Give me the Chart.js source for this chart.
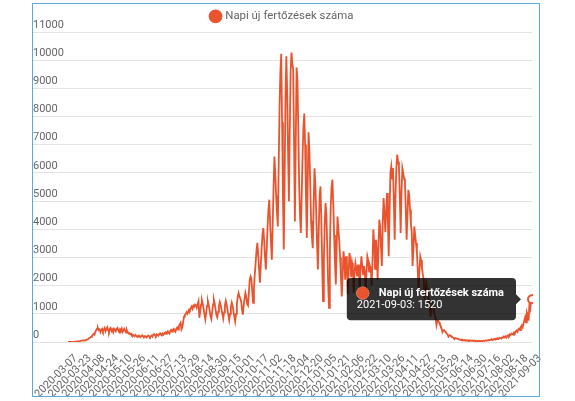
<!DOCTYPE html>
<html>
<head>
<meta charset="utf-8">
<script src="https://cdn.jsdelivr.net/npm/chart.js@4.4.1/dist/chart.umd.min.js"></script>
<style>
  html, body { margin: 0; padding: 0; background: #ffffff; }
  #wrap { position: absolute; left: 0; top: 0; width: 575px; height: 401px; }
  #frame { position: absolute; left: 32px; top: 3px; width: 506px; height: 392px; border: 1px solid #5aa9e0; pointer-events: none; }
</style>
</head>
<body>
<div id="wrap"><canvas id="chart"></canvas></div>
<div id="frame"></div>
<script>
// ---- data ----
const seriesLabel = 'Napi új fertőzések száma';
const firstDate = '2020-03-07';
const lastDate = '2021-09-03';
const missingDates = ['2021-07-25'];
const labelEvery = 16;
const yMin = 0;
const yMax = 11000;
const yStep = 1000;

// daily new cases, 2020-03-07 .. 2020-12-31
const cases2020 = [
  0, 1, 2, 2, 4, 5, 7,
  9, 10, 13, 16, 19, 25, 30,
  32, 39, 45, 50, 55, 48, 60,
  73, 85, 92, 110, 140, 160, 185,
  210, 250, 290, 260, 350, 420, 470,
  500, 420, 450, 350, 420, 470, 380,
  440, 500, 380, 460, 520, 420, 360,
  470, 500, 390, 440, 350, 470, 430,
  380, 460, 500, 400, 350, 450, 410,
  480, 360, 420, 470, 390, 330, 420,
  340, 300, 320, 270, 290, 240, 260,
  230, 200, 250, 220, 180, 210, 230,
  190, 170, 220, 240, 200, 180, 210,
  200, 160, 190, 230, 210, 170, 200,
  230, 190, 260, 280, 240, 210, 270,
  250, 220, 290, 310, 270, 240, 300,
  260, 300, 340, 290, 350, 380, 330,
  300, 390, 430, 370, 420, 460, 400,
  360, 470, 510, 440, 560, 620, 680,
  450, 520, 700, 900, 960, 1000, 1060,
  1000, 1080, 1150, 1120, 1200, 1260, 1180,
  1290, 1250, 1330, 1300, 1220, 1350, 1450,
  860, 1080, 1330, 1480, 1360, 1170, 980,
  800, 1030, 1290, 1450, 1320, 1120, 930,
  820, 1060, 1330, 1500, 1360, 1160, 960,
  880, 1070, 1280, 1420, 1310, 1150, 990,
  830, 1050, 1300, 1460, 1330, 1140, 960,
  780, 1000, 1250, 1400, 1280, 1090, 900,
  730, 1000, 1350, 1600, 1740, 1620, 1550,
  1450, 1150, 970, 1300, 1550, 1740, 1600,
  1350, 1300, 1700, 2200, 2330, 2250, 1800,
  1390, 1900, 2400, 2810, 3250, 3520, 3100,
  2600, 2100, 2700, 3300, 3800, 4040, 3600,
  3000, 2570, 3300, 4100, 4700, 5050, 4200,
  3500, 2920, 4200, 5500, 6580, 6000, 5200,
  4600, 4100, 6200, 8300, 9600, 10230, 7800,
  5200, 3280, 5800, 8800, 10140, 8800, 6800,
  4990, 7500, 9600, 10270, 9900, 9670, 7200,
  4280, 7000, 9740, 9300, 7600, 5600, 4500,
  3870, 5200, 6600, 7600, 8110, 7000, 5200,
  3690, 5600, 7440, 6800, 5600, 4300, 3700,
  3330, 4900, 6165, 5600, 4600, 3500, 2570,
  4000, 5200, 5520, 4300, 2800, 1450
];

// daily new cases, 2021-01-01 .. 2021-09-03
const cases2021 = [
  2900, 4200, 4930, 4500, 3300, 2100, 1210,
  3200, 4800, 5500, 5760, 4900, 3800, 2800,
  2040, 3400, 4450, 4000, 3600, 3000, 2300,
  1620, 2400, 3220, 2900, 2210, 3040, 2800,
  1700, 2500, 3160, 2900, 2300, 2800, 2600,
  1750, 2500, 2800, 2600, 2330, 2750, 2500,
  1800, 2600, 3040, 2700, 2400, 2700, 2500,
  1850, 2500, 3040, 2900, 2500, 2700, 2600,
  2000, 2900, 3990, 3500, 2600, 3630, 3300,
  2200, 3400, 4340, 4100, 3300, 2700, 4200,
  5110, 4600, 3900, 4600, 5290, 4400, 3040,
  4600, 6000, 6230, 5800, 6170, 5000, 3630,
  5200, 6200, 6650, 6400, 6230, 5200, 3870,
  5300, 6170, 6000, 5800, 5700, 4700, 3630,
  4500, 5400, 5200, 4700, 4200, 3900, 2700,
  3300, 4100, 3800, 3510, 3200, 2600, 1800,
  2500, 3040, 2900, 2600, 2400, 2210, 1500,
  1900, 2100, 1900, 1700, 1500, 1300, 900,
  1200, 1350, 1200, 1050, 950, 850, 600,
  760, 760, 700, 620, 560, 480, 350,
  410, 420, 380, 340, 300, 270, 190,
  235, 240, 210, 190, 170, 150, 100,
  140, 130, 120, 110, 100, 94, 70,
  80, 60, 75, 55, 70, 50, 65,
  45, 60, 40, 60, 50, 45, 55,
  35, 50, 40, 30, 45, 35, 40,
  30, 35, 25, 40, 35, 45, 30,
  50, 55, 45, 60, 70, 55, 82,
  75, 90, 70, 95, 110, 85, 120,
  105, 130, 115, 150, 140, 125, 170,
  160, 190, 175, 200, 160, 220, 240,
  210, 270, 250, 300, 280, 260, 340,
  320, 380, 410, 360, 450, 480, 420,
  540, 590, 520, 650, 760, 880, 700,
  1060, 980, 760, 1350, 1200, 1500, 1520
];

// ---- build categories (consecutive report dates) ----
function buildDates(from, to, skip) {
  const out = [];
  const d = new Date(from + 'T00:00:00Z');
  const end = new Date(to + 'T00:00:00Z');
  while (d <= end) {
    const s = d.toISOString().slice(0, 10);
    if (!skip.includes(s)) out.push(s);
    d.setUTCDate(d.getUTCDate() + 1);
  }
  return out;
}
const dates = buildDates(firstDate, lastDate, missingDates);
const values = cases2020.concat(cases2021);

const lineColor = '#e9542e';
Chart.defaults.font.family = 'Roboto, "Noto Sans", sans-serif';
Chart.defaults.color = '#666666';

const chart = new Chart(document.getElementById('chart'), {
  type: 'line',
  data: {
    labels: dates,
    datasets: [{
      label: seriesLabel,
      data: values,
      borderColor: lineColor,
      backgroundColor: lineColor,
      borderWidth: 1.8,
      pointRadius: 0,
      pointHitRadius: 4,
      pointHoverRadius: 4,
      pointHoverBorderWidth: 2,
      pointHoverBackgroundColor: '#ffffff',
      pointHoverBorderColor: lineColor,
      pointStyle: 'circle',
      tension: 0,
      fill: false
    }]
  },
  options: {
    responsive: true,
    maintainAspectRatio: false,
    animation: false,
    layout: { padding: { left: 33, right: 43, top: 2, bottom: 4 } },
    plugins: {
      legend: {
        display: true,
        position: 'top',
        labels: {
          usePointStyle: true,
          boxWidth: 8,
          boxHeight: 8.5,
          padding: 4,
          color: '#666666',
          font: { size: 11.4 }
        }
      },
      tooltip: {
        enabled: true,
        backgroundColor: 'rgba(0,0,0,0.8)',
        padding: { left: 10, right: 12, top: 9, bottom: 9 },
        caretPadding: 11,
        caretSize: 5,
        cornerRadius: 4,
        usePointStyle: true,
        boxWidth: 12,
        boxHeight: 12,
        boxPadding: 8,
        bodyFont: { size: 11, weight: 'bold', lineHeight: 1.1 },
        footerFont: { size: 11, weight: 'normal', lineHeight: 1.1 },
        footerMarginTop: 0,
        bodyColor: '#ffffff',
        footerColor: '#ffffff',
        callbacks: {
          title: () => '',
          label: (ctx) => ctx.dataset.label,
          labelColor: () => ({ borderColor: lineColor, backgroundColor: lineColor }),
          footer: (items) => items.length ? items[0].label + ': ' + items[0].raw : ''
        }
      }
    },
    scales: {
      x: {
        grid: { display: false, drawTicks: false },
        border: { display: false },
        ticks: {
          autoSkip: false,
          minRotation: 45,
          maxRotation: 45,
          padding: 10,
          labelOffset: 8,
          font: { size: 11 },
          color: '#666666',
          callback: function (value, index) {
            return index % labelEvery === 0 ? dates[index] : null;
          }
        },
        afterFit: (s) => { s.paddingLeft = 0; s.paddingRight = 0; s.height = 55; }
      },
      y: {
        min: yMin,
        max: yMax,
        grid: { color: '#e3e3e3', tickLength: 35, drawTicks: true },
        border: { display: false },
        ticks: {
          stepSize: yStep,
          crossAlign: 'far',
          labelOffset: -7,
          padding: 0,
          font: { size: 11 },
          color: '#666666',
          callback: (v) => String(v)
        },
        afterFit: (s) => { s.width = 35; s.paddingTop = 32; s.paddingBottom = 0; }
      }
    }
  }
});

const lastIndex = values.length - 1;
chart.setActiveElements([{ datasetIndex: 0, index: lastIndex }]);
chart.tooltip.setActiveElements([{ datasetIndex: 0, index: lastIndex }], { x: 0, y: 0 });
chart.update('none');
</script>
</body>
</html>
